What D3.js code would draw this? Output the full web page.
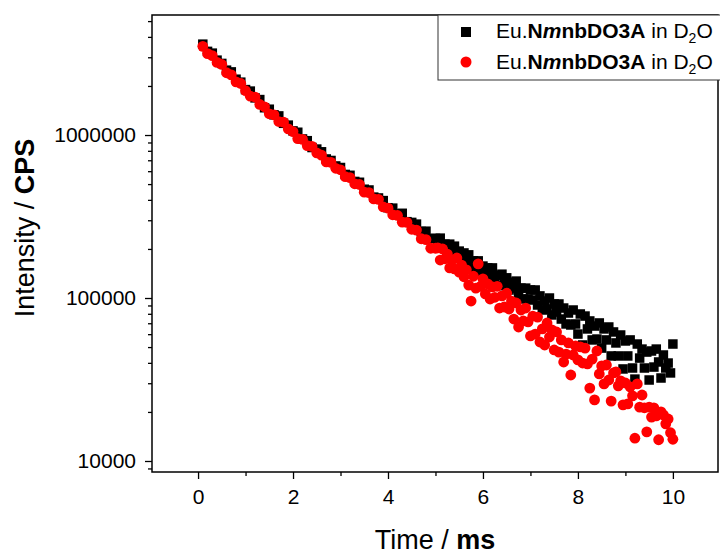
<!doctype html>
<html>
  <head>
    <meta charset="utf-8">
    <script src="https://d3js.org/d3.v7.min.js"></script>
    <style>
      body { margin: 0; background: #fff; }
      text { font-family: Arial, "Liberation Sans", sans-serif; }
    </style>
  </head>
  <body>
    <svg id="chart" width="720" height="554"></svg>
    <script>
      /* time axis, ms */
      var times = [
        0.1,0.2,0.3,0.4,0.5,0.6,0.7,0.8,0.9,1.0,
        1.1,1.2,1.3,1.4,1.5,1.6,1.7,1.8,1.9,2.0,
        2.1,2.2,2.3,2.4,2.5,2.6,2.7,2.8,2.9,3.0,
        3.1,3.2,3.3,3.4,3.5,3.6,3.7,3.8,3.9,4.0,
        4.1,4.2,4.3,4.4,4.5,4.6,4.7,4.8,4.9,5.0,
        5.05,5.1,5.15,5.2,5.25,5.3,5.35,5.4,5.45,5.5,
        5.55,5.6,5.65,5.7,5.75,5.8,5.85,5.9,5.95,6.0,
        6.05,6.1,6.15,6.2,6.25,6.3,6.35,6.4,6.45,6.5,
        6.55,6.6,6.65,6.7,6.75,6.8,6.85,6.9,6.95,7.0,
        7.05,7.1,7.15,7.2,7.25,7.3,7.35,7.4,7.45,7.5,
        7.55,7.6,7.65,7.7,7.75,7.8,7.85,7.9,7.95,8.0,
        8.05,8.1,8.15,8.2,8.25,8.3,8.35,8.4,8.45,8.5,
        8.55,8.6,8.65,8.7,8.75,8.8,8.85,8.9,8.95,9.0,
        9.05,9.1,9.15,9.2,9.25,9.3,9.35,9.4,9.45,9.5,
        9.55,9.6,9.65,9.7,9.75,9.8,9.85,9.9,9.95,10.0
      ];

      /* first series (black squares), CPS */
      var seriesA = [
        3610000,3260000,3180000,2880000,2750000,2500000,2440000,2200000,2110000,1900000,
        1860000,1690000,1650000,1470000,1440000,1330000,1310000,1180000,1150000,1060000,
        1040000,946000,923000,838000,820000,789000,713000,698000,646000,632000,
        573000,566000,519000,513000,465000,460000,416000,411000,396000,358000,
        356000,328000,331000,294000,291000,284000,256000,257000,232000,232000,
        214000,233000,203000,214000,192000,214000,192000,208000,178000,194000,
        169000,189000,171000,184000,153000,169000,151000,169000,146000,157000,
        135000,153000,135000,153000,125000,138000,119000,140000,122000,133000,
        112000,125000,115000,127000,104000,115000,98600,115000,98600,112000,
        97200,112000,90600,103000,84400,95800,85600,100000,78700,91900,
        82000,91900,74300,86800,69300,80900,68300,84400,69300,60100,
        79800,51500,77500,64600,72300,55300,67300,56000,70300,49300,
        64600,55300,66400,44100,61900,53000,44100,59300,36700,54500,
        44100,55300,37200,31800,52200,42800,48600,37200,46600,31400,
        47300,37700,48600,40500,32300,44700,37200,39900,34700,52200
      ];

      /* second series (red circles), CPS */
      var seriesB = [
        3500000,3160000,3070000,2790000,2710000,2410000,2340000,2120000,2070000,1870000,
        1730000,1710000,1540000,1490000,1350000,1330000,1210000,1200000,1090000,1050000,
        951000,940000,861000,851000,776000,753000,684000,679000,625000,612000,
        555000,548000,502000,497000,446000,443000,406000,403000,362000,356000,
        324000,321000,292000,291000,264000,261000,231000,228000,202000,202000,
        203000,171000,200000,174000,186000,153000,171000,151000,176000,144000,
        159000,135000,149000,120000,95800,136000,115000,162000,118000,131000,
        106000,122000,98600,117000,101000,118000,86800,103000,88100,107000,
        85600,95800,74300,93200,66400,84400,72300,86800,71300,58500,
        77500,60100,76400,53700,64600,51500,70300,57600,63700,48000,
        61900,46600,55300,40500,45300,53000,33700,44700,50800,41700,
        50100,39900,49300,39400,28000,42200,23700,47300,34200,38300,
        29700,38800,31400,23300,34700,35200,28900,31000,22100,30100,
        22400,28500,25100,13800,29700,21400,25400,21200,15100,21400,
        18600,21200,18900,13500,20000,19200,16900,18100,14900,13600
      ];

      var xMajor = [0, 2, 4, 6, 8, 10];
      var xMinor = [1, 3, 5, 7, 9];
      var yMajor = [10000, 100000, 1000000];
      var yMinor = [9000, 20000, 30000, 40000, 50000, 60000, 70000, 80000, 90000,
                    200000, 300000, 400000, 500000, 600000, 700000, 800000, 900000,
                    2000000, 3000000, 4000000, 5000000];

      var plotL = 152, plotR = 718, plotT = 15, plotB = 472;

      var svg = d3.select("#chart");
      svg.append("rect").attr("width", 720).attr("height", 554).attr("fill", "#fff");

      var x = d3.scaleLinear().domain([-0.97, 10.95]).range([plotL, plotR]);
      var y = d3.scaleLog().domain([8560, 5450000]).range([plotB, plotT]);

      /* x axis */
      svg.append("g").attr("transform", "translate(0," + plotB + ")")
        .call(d3.axisBottom(x).tickValues(xMajor).tickSize(7).tickSizeOuter(0).tickPadding(10)
          .tickFormat(d3.format("d")));
      svg.append("g").attr("transform", "translate(0," + plotB + ")")
        .call(d3.axisBottom(x).tickValues(xMinor).tickSize(4).tickSizeOuter(0).tickFormat(""));

      /* y axis */
      svg.append("g").attr("transform", "translate(" + plotL + ",0)")
        .call(d3.axisLeft(y).tickValues(yMajor).tickSize(7).tickSizeOuter(0).tickPadding(9)
          .tickFormat(d3.format("d")));
      svg.append("g").attr("transform", "translate(" + plotL + ",0)")
        .call(d3.axisLeft(y).tickValues(yMinor).tickSize(4).tickSizeOuter(0).tickFormat(""));

      svg.selectAll(".domain").remove();
      svg.selectAll(".tick line").attr("stroke", "#000").attr("stroke-width", 1.3);
      svg.selectAll(".tick text").attr("fill", "#000").style("font-size", "21px");

      /* frame */
      svg.append("rect")
        .attr("x", plotL).attr("y", plotT)
        .attr("width", plotR - plotL).attr("height", plotB - plotT)
        .attr("fill", "none").attr("stroke", "#000").attr("stroke-width", 1.5);

      /* data */
      var side = 9.5;
      svg.append("g").selectAll("rect").data(times)
        .enter().append("rect")
          .attr("x", function(d) { return x(d) - side / 2; })
          .attr("y", function(d, i) { return y(seriesA[i]) - side / 2; })
          .attr("width", side).attr("height", side)
          .attr("fill", "#000");

      svg.append("g").selectAll("circle").data(times)
        .enter().append("circle")
          .attr("cx", function(d) { return x(d); })
          .attr("cy", function(d, i) { return y(seriesB[i]); })
          .attr("r", 5.4)
          .attr("fill", "#ff0000");

      /* legend */
      var lg = svg.append("g");
      lg.append("rect").attr("x", 438).attr("y", plotT).attr("width", 300).attr("height", 65)
        .attr("fill", "#fff").attr("stroke", "#333").attr("stroke-width", 1);
      lg.append("rect").attr("x", 461).attr("y", 27).attr("width", 10).attr("height", 10).attr("fill", "#000");
      lg.append("circle").attr("cx", 466).attr("cy", 62).attr("r", 5.5).attr("fill", "#ff0000");

      [38, 69].forEach(function(by) {
        var t = lg.append("text").attr("x", 496).attr("y", by).style("font-size", "21px").attr("fill", "#000");
        t.append("tspan").text("Eu.");
        t.append("tspan").style("font-weight", "bold").text("N");
        t.append("tspan").style("font-weight", "bold").style("font-style", "italic").text("m");
        t.append("tspan").style("font-weight", "bold").text("nbDO3A");
        t.append("tspan").text(" in D");
        t.append("tspan").attr("dy", 5).style("font-size", "14px").text("2");
        t.append("tspan").attr("dy", -5).text("O");
      });

      /* axis titles */
      var xt = svg.append("text").attr("x", (plotL + plotR) / 2).attr("y", 549)
        .attr("text-anchor", "middle").style("font-size", "27px").attr("fill", "#000");
      xt.append("tspan").text("Time / ");
      xt.append("tspan").style("font-weight", "bold").text("ms");

      var yt = svg.append("text")
        .attr("transform", "translate(34,228) rotate(-90)")
        .attr("text-anchor", "middle").style("font-size", "27px").attr("fill", "#000");
      yt.append("tspan").text("Intensity / ");
      yt.append("tspan").style("font-weight", "bold").text("CPS");
    </script>
  </body>
</html>
